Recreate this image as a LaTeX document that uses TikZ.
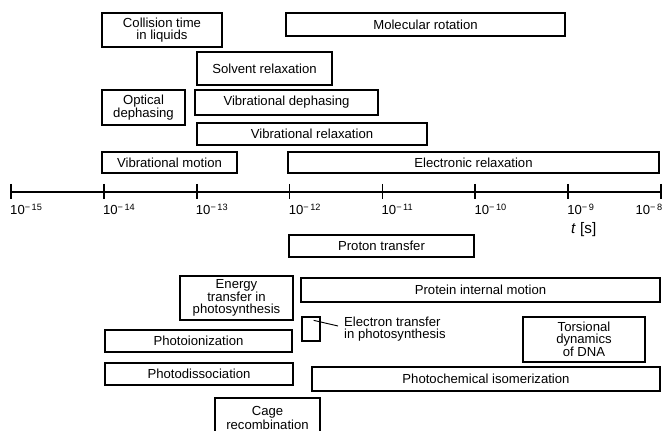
\documentclass[tikz,border=0pt]{standalone}
\usepackage{fontspec}
\setmainfont{Liberation Sans}
\usepackage{tikz}

\begin{document}
\begin{tikzpicture}[
    x=0.03cm, y=-0.03cm,
    proc/.style={draw, line width=1.1pt, inner sep=1pt, align=center, font=\fontsize{11.2}{10}\selectfont},
    lbl/.style={inner sep=0pt, font=\fontsize{11.2}{10}\selectfont},
    axtick/.style={line width=1.4pt}]
  \useasboundingbox (0,0) rectangle (663,431);
  \clip (0,0) rectangle (663,431);
  \coordinate (axl) at (11,192);
  \coordinate (axr) at (661,192);
  \draw[axtick] (axl) -- (axr);
  \foreach \e [count=\i from 0] in {15,14,13,12,11,10,9,8}
    \draw[axtick] (11+92.857*\i,184) -- (11+92.857*\i,199);
  \foreach \e [count=\i from 0] in {15,14,13,12,11,10,9}
    \node[lbl, anchor=base west] (lab\e) at (10+92.857*\i,215) {10\textsuperscript{−\,\e}};
  \node[lbl, anchor=base east] (lab8) at (663,215) {10\textsuperscript{−\,8}};
  \node[lbl, anchor=base west, font=\fontsize{13}{13}\selectfont] (tunit) at (571,234) {\textit{t} [s]};
  \node[proc, minimum width=3.6cm, minimum height=1.02cm] (coll) at (162,30) {Collision time\\in liquids};
  \node[proc, minimum width=8.37cm, minimum height=0.69cm] (molrot) at (425.5,24.5) {Molecular rotation};
  \node[proc, minimum width=4.05cm, minimum height=0.99cm] (solv) at (264.5,68.5) {Solvent relaxation};
  \node[proc, minimum width=2.49cm, minimum height=1.05cm] (optdeph) at (143.5,107.5) {Optical\\dephasing};
  \node[proc, minimum width=5.49cm, minimum height=0.75cm] (vibdeph) at (286.5,102.5) {Vibrational dephasing};
  \node[proc, minimum width=6.9cm, minimum height=0.66cm] (vibrel) at (312,134) {Vibrational relaxation};
  \node[proc, minimum width=4.05cm, minimum height=0.63cm] (vibmot) at (169.5,162.5) {Vibrational motion};
  \node[proc, minimum width=11.13cm, minimum height=0.63cm] (elrel) at (473.5,162.5) {Electronic relaxation};
  \node[proc, minimum width=5.55cm, minimum height=0.66cm] (proton) at (381.5,246) {Proton transfer};
  \node[proc, minimum width=3.39cm, minimum height=1.32cm] (entr) at (236.5,298) {Energy\\transfer in\\photosynthesis};
  \node[proc, minimum width=10.77cm, minimum height=0.72cm] (protein) at (480.5,290) {Protein internal motion};
  \node[proc, minimum width=0.54cm, minimum height=0.72cm] (eltr) at (311,329) {};
  \node[lbl, anchor=west, align=left] (eltrlab) at (344,329) {Electron transfer\\in photosynthesis};
  \draw[line width=0.8pt] ([xshift=-0.21cm, yshift=-0.12cm]eltr.north east) -- ([xshift=-0.18cm, yshift=0.09cm]eltrlab.west);
  \node[proc, minimum width=5.61cm, minimum height=0.66cm] (photoion) at (198.5,341) {Photoionization};
  \node[proc, minimum width=3.66cm, minimum height=1.35cm] (dna) at (584,339.5) {Torsional\\dynamics\\of DNA};
  \node[proc, minimum width=5.64cm, minimum height=0.66cm] (photodis) at (199,374) {Photodissociation};
  \node[proc, minimum width=10.44cm, minimum height=0.72cm] (isom) at (486,379) {Photochemical isomerization};
  \node[proc, minimum width=3.15cm, minimum height=1.2cm] (cage) at (267.5,418) {Cage\\recombination};
\end{tikzpicture}
\end{document}
